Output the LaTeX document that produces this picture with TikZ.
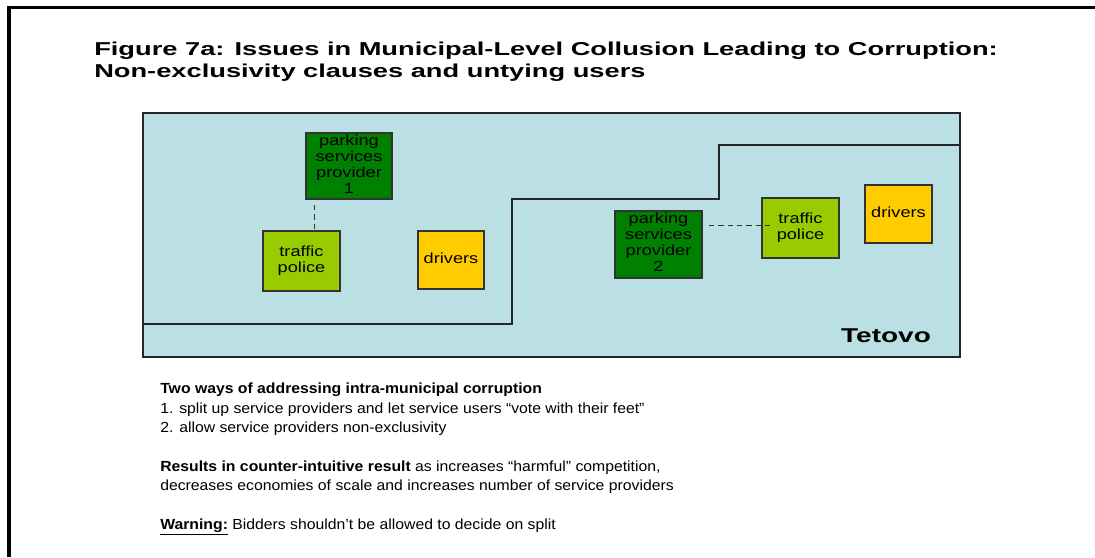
\documentclass[tikz,border=0pt]{standalone}
\usepackage{fontspec}
\usepackage{graphicx}
\setmainfont{Liberation Sans}
\definecolor{bgblue}{RGB}{187,224,227}
\definecolor{dkgreen}{RGB}{0,128,0}
\definecolor{ltgreen}{RGB}{153,204,0}
\definecolor{yel}{RGB}{255,204,0}
\newcommand{\wide}[2]{\scalebox{#1}[1]{#2}}
\newcommand{\boxtxt}[1]{\scalebox{1.24}[1]{\begin{tabular}{@{}c@{}}#1\end{tabular}}}
\begin{document}
\begin{tikzpicture}[x=0.75pt,y=-0.75pt,
  box/.style={draw=black!80, line width=0.8pt, rectangle, inner sep=0pt, align=center,
    font=\fontsize{11pt}{12pt}\selectfont},
  dashline/.style={draw=black!80, line width=0.75pt, dash pattern=on 4pt off 3pt},
  titletext/.style={anchor=base west, inner sep=0pt, font=\fontsize{14pt}{16.5pt}\selectfont\bfseries},
  bodytext/.style={anchor=base west, inner sep=0pt, font=\fontsize{11pt}{15pt}\selectfont}]
\useasboundingbox (0,0) rectangle (1095,557);
% outer frame
\draw[line width=2.3pt] (9,557) -- (9,7.7) -- (1095,7.7);
% title
\node[titletext] (t1) at (94,55) {\wide{1.46}{Figure 7a: Issues in Municipal-Level Collusion Leading to Corruption:}};
\node[titletext] (t2) at (94,77) {\wide{1.46}{Non-exclusivity clauses and untying users}};
% map area
\draw[fill=bgblue, draw=black!85, line width=0.8pt] (143,113) rectangle (960,357);
\draw[draw=black!85, line width=0.8pt] (143,324) -- (512,324) -- (512,199) -- (719,199) -- (719,145) -- (960,145);
% boxes
\node[box, fill=dkgreen, minimum width=86*0.75pt, minimum height=66*0.75pt] (psp1) at (349,166) {\boxtxt{parking\\services\\provider\\1}};
\node[box, fill=ltgreen, minimum width=77*0.75pt, minimum height=60*0.75pt] (tp1) at (301.5,261) {\boxtxt{traffic\\police}};
\node[box, fill=yel, minimum width=66*0.75pt, minimum height=58*0.75pt] (dr1) at (451,260) {\boxtxt{drivers}};
\node[box, fill=dkgreen, minimum width=87*0.75pt, minimum height=67*0.75pt] (psp2) at (658.5,244.5) {\boxtxt{parking\\services\\provider\\2}};
\node[box, fill=ltgreen, minimum width=77*0.75pt, minimum height=60*0.75pt] (tp2) at (800.5,228) {\boxtxt{traffic\\police}};
\node[box, fill=yel, minimum width=67*0.75pt, minimum height=58*0.75pt] (dr2) at (898.5,214) {\boxtxt{drivers}};
% dashed links
\coordinate (d1) at (314,205);
\draw[dashline] (d1) -- (d1 |- tp1.north);
\coordinate (d2a) at (709,225);
\coordinate (d2b) at (770,225);
\draw[dashline] (d2a) -- (d2b);
% Tetovo
\node[anchor=base, inner sep=0pt, font=\fontsize{15pt}{18pt}\selectfont\bfseries] (tet) at (886,342) {\wide{1.4}{Tetovo}};
% lower text
\node[bodytext] (p1a) at (160,393) {\wide{1.075}{\textbf{Two ways of addressing intra-municipal corruption}}};
\node[bodytext] (p1b) at (160,413) {\wide{1.075}{1. split up service providers and let service users “vote with their feet”}};
\node[bodytext] (p1c) at (160,432) {\wide{1.075}{2. allow service providers non-exclusivity}};
\node[bodytext] (p2a) at (160,471) {\wide{1.075}{\textbf{Results in counter-intuitive result} as increases “harmful” competition,}};
\node[bodytext] (p2b) at (160,490) {\wide{1.075}{decreases economies of scale and increases number of service providers}};
\node[bodytext] (p3) at (160,529) {\wide{1.075}{\textbf{\underline{Warning:}} Bidders shouldn’t be allowed to decide on split}};
\end{tikzpicture}
\end{document}
